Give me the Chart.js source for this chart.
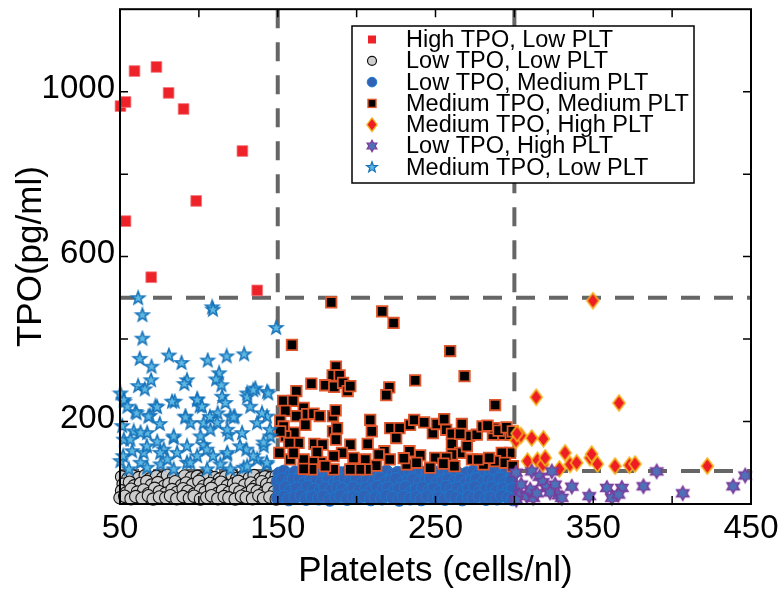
<!DOCTYPE html>
<html>
<head>
<meta charset="utf-8">
<script src="https://cdn.jsdelivr.net/npm/chart.js@4/dist/chart.umd.min.js"></script>
<style>
html,body{margin:0;padding:0;background:#fff;}
#wrap{width:781px;height:592px;}
</style>
</head>
<body>
<div id="wrap"><canvas id="c" width="781" height="592"></canvas></div>
<script>
// ---------- DATA ----------
const seriesNames = [
  "High TPO, Low PLT",
  "Low TPO, Low PLT",
  "Low TPO, Medium PLT",
  "Medium TPO, Medium PLT",
  "Medium TPO, High PLT",
  "Low TPO, High PLT",
  "Medium TPO, Low PLT"
];
const xTickLabels = [50, 150, 250, 350, 450];
const yTickLabels = [200, 600, 1000];
const xTickMarks = [100, 150, 200, 250, 300, 350, 400];
const yTickMarks = [200, 400, 600, 800, 1000];
const pltThresholds = [150, 300];
const tpoThresholds = [80, 500];

const highTpoLowPlt = [[50.3,965],[53.5,975],[59.2,1050],[73.1,1060],[80.8,997],[90.3,958],[127.6,856],[98.3,735],[53.5,686],[69.8,550],[137,518]];

const lowTpoLowPlt = [
[51,66],[55,62],[58,68],[62,64],[66,69],[69,61],[73,67],[77,63],[80,70],[84,65],[88,60],[91,68],[95,63],[99,67],[102,61],[106,69],[110,64],[113,60],[117,66],[121,70],[124,62],[128,67],[132,63],[135,69],[139,61],[142,66],[146,64],[149,68],
[52,48],[56,53],[59,44],[63,50],[67,55],[70,46],[74,52],[78,43],[81,49],[85,54],[89,45],[92,51],[96,47],[100,55],[103,43],[107,50],[111,46],[114,53],[118,44],[122,49],[125,55],[129,46],[133,51],[136,43],[140,54],[143,48],[147,52],[149,45],
[51,32],[54,27],[57,36],[61,29],[65,34],[68,25],[72,38],[75,30],[79,26],[83,35],[86,28],[90,37],[93,31],[97,24],[101,34],[104,29],[108,38],[112,26],[115,33],[119,28],[123,36],[126,30],[130,25],[134,35],[137,31],[141,27],[144,37],[148,30],
[50,15],[53,19],[57,13],[60,18],[64,14],[68,20],[71,12],[75,17],[79,15],[82,20],[86,13],[90,18],[94,14],[97,19],[101,12],[105,16],[108,20],[112,13],[116,18],[119,15],[123,12],[127,19],[130,16],[134,13],[138,20],[141,14],[145,17],[149,12]
];

const lowTpoMediumPlt = [
[151,74],[154,79],[158,70],[161,77],[165,72],[168,80],[172,69],[176,76],[179,73],[183,79],[187,70],[190,75],[194,78],[197,71],[201,77],[205,73],[208,80],[212,68],[216,75],[219,79],[223,71],[226,76],[230,73],[234,79],[237,70],[241,77],[245,74],[248,80],[252,69],[256,76],[259,72],[263,78],[267,70],[270,75],[274,79],[277,71],[281,77],[285,73],[288,80],[292,69],[295,75],[299,72],
[150,55],[153,60],[157,52],[160,58],[164,62],[167,51],[171,57],[175,61],[178,53],[182,59],[186,50],[189,56],[193,62],[196,54],[200,58],[204,51],[207,60],[211,55],[215,62],[218,52],[222,57],[225,61],[229,50],[233,56],[236,60],[240,53],[244,58],[247,62],[251,51],[255,56],[258,60],[262,54],[266,59],[269,50],[273,57],[276,61],[280,52],[284,58],[287,55],[291,62],[294,51],[298,57],
[151,36],[155,41],[158,32],[162,38],[166,30],[169,42],[173,35],[177,31],[180,39],[184,33],[188,41],[191,36],[195,30],[198,40],[202,34],[206,38],[209,31],[213,42],[217,35],[220,39],[224,32],[227,37],[231,41],[235,30],[238,36],[242,40],[246,33],[249,38],[253,31],[257,42],[260,35],[264,39],[268,32],[271,37],[275,41],[278,30],[282,36],[286,40],[289,33],[293,38],[296,31],[299,36],
[150,14],[154,18],[157,11],[161,16],[165,20],[168,12],[172,17],[176,13],[179,19],[183,10],[187,15],[190,20],[194,12],[198,17],[201,14],[205,19],[209,11],[212,16],[216,13],[219,20],[223,15],[227,10],[230,18],[234,13],[238,17],[241,11],[245,19],[249,14],[252,16],[256,12],[260,20],[263,15],[267,11],[271,18],[274,14],[278,19],[282,12],[285,16],[289,13],[292,20],[296,15],[299,11]
];

const mediumTpoMediumPlt = [
[183.9,489],[216.2,467],[223.4,439],[159,386],[259.3,371],[186.9,333],[184.8,312],[189.2,312],[171.3,292],[180.1,288],[185.8,284],[191.4,294],[194.3,274],[196,286],[161.8,274],[220.7,283],[218.8,264],[237.1,300],[268.4,310],[287.8,240],
[153.4,250],[159.7,250],[166.4,233],[154.8,226],[161.8,213],[151.6,202],[168.6,218],[172.7,219],[176.6,213],[185,213],[186.7,227],[167.5,192],[153.7,188],[185,176],[187.6,184],[160.5,173],[154.8,164],[186.9,156],[163.2,148],[157.3,148],[173.2,146],[178.4,144],[196,144],[207,146],[208.6,204],[209.6,176],[221.3,184],[227.2,184],[225.1,160],[233.9,192],[236.5,204],[242.8,198],[248.3,172],[250.8,194],[255.5,206],[256.8,180],[260.4,170],[260.4,146],[266.7,194],[271.3,165],[265.6,170],[276.2,168],[279.8,188],[286.4,168],[287.2,184],[293.1,168],[297.7,168],
[297.3,124],[292,124],[287.8,104],[280.4,96],[273.1,108],[265.6,124],[269.9,140],[260.4,120],[256.8,112],[249.8,112],[246.6,88],[240.3,118],[233.5,128],[231.8,96],[229.9,111],[217.6,128],[212.4,93],[205.5,108],[206.2,84],[202,84],[196,84],[190.7,124],[185.4,116],[185.4,84],[177.4,101],[174.9,126],[172.3,101],[171.7,84],[166.4,108],[166.4,85],[158,108],[160,124],[151.6,176],[151,124],
[283,190],[290,178],[295,186],[299,176],[277,108],[284,112],[294,100],[299,92],[262,92],[255,98],[238,100],[221,108],[214,120],[198,112],[180,92]
];

const mediumTpoHighPlt = [[349.8,493],[313.8,259],[366.3,245],[301,154],[304.1,166],[311,160],[318.4,158],[301.7,171],[308.3,104],[314.6,106],[318,96],[319.5,112],[332.1,124],[335.3,96],[339.5,100],[328.5,85],[348,112],[349,121],[352.6,97],[363.8,92],[372.9,94],[376.5,97],[422.3,92]];

const lowTpoHighPlt = [[301,76],[311,79],[323.7,79],[315.9,66],[318,53],[320.5,39],[325.8,47],[327.9,21],[336.4,42],[347.5,19],[358.6,39],[368.1,39],[361.8,15],[366,23],[381.8,43],[390.2,79],[406.7,26],[438.7,43],[446.3,69],[303.6,23],[307.8,19],[312,15],[310,35],[314.2,26],[322.6,28],[330,15],[301.2,10],[304.3,47]];

const mediumTpoLowPlt = [
[61.5,499],[64.2,458],[64.2,401],[108.4,477],[108.9,471],[149,427],[62.5,352],[70,333],[81,360],[89,342],[105.6,348],[117.6,358],[128.7,363],[69.7,300],[61.5,286],[65.7,278],[92.5,300],[90.8,291],[112.8,317],[110.9,302],[114.3,288],[50.3,268],[52.8,248],[59.8,223],[72.5,237],[84.7,248],[68.9,214],[98.9,254],[100.5,237],[114.7,260],[116.8,245],[120,212],[122.7,212],[91.5,212],[130.6,268],[135.8,280],[143.2,272],[132.6,236],[51.4,189],[75.2,194],[58.7,176],[67.2,172],[84,160],[94.6,196],[103,196],[107.3,180],[111.9,220],[118.9,168],[127.4,172],[136.9,196],[143.2,212],[145.3,164],[52.4,156],[73.6,151],[57.7,128],[65,124],[77.7,132],[86.2,124],[98.9,116],[103,143],[117.9,120],[130.1,132],[136.9,108],[141.1,140],[50.3,104],[63,100],[75.7,96],[92.5,100],[113.6,96],[128.4,88],[143.2,96],[55.6,84],[67.2,88],[84,84],[105.2,84],[120,84],
[52.4,252],[54.7,236],[60.5,220],[68,212],[73.5,235],[83,248],[91.5,210],[99,252],[102,236],[107,211],[111.6,197],[118,180],[122,210],[130.6,259],[134.5,276],[144,268],[140,220],[145,180],[141,149],[63,173],[56.6,156],[67,140],[75.5,124],[84,164],[92.5,140],[101,164],[105,132],[118,124],[126,140],[134.5,116],[52,116],[80,108],[94.6,100],[109,116],[130.6,91],[143,100]
];

// ---------- MARKERS ----------
const FONT = "'Liberation Sans', Arial, Helvetica, sans-serif";
function starPath(ctx, cx, cy, n, R, r) {
  ctx.beginPath();
  for (let i = 0; i < 2 * n; i++) {
    const rad = i % 2 === 0 ? R : r;
    const a = -Math.PI / 2 + i * Math.PI / n;
    const px = cx + rad * Math.cos(a), py = cy + rad * Math.sin(a);
    if (i === 0) ctx.moveTo(px, py); else ctx.lineTo(px, py);
  }
  ctx.closePath();
}
function drawStar5(ctx, cx, cy, s) {
  starPath(ctx, cx, cy, 5, 7 * s, 2.9 * s);
  ctx.fillStyle = '#5cb7e2'; ctx.fill();
  ctx.lineWidth = 1.5 * s; ctx.strokeStyle = '#1572b9'; ctx.lineJoin = 'miter'; ctx.stroke();
}
function drawHex(ctx, cx, cy, s) {
  starPath(ctx, cx, cy, 6, 7 * s, 4.0 * s);
  ctx.fillStyle = '#4d71b7'; ctx.fill();
  ctx.lineWidth = 1.6 * s; ctx.strokeStyle = '#7a3b9c'; ctx.stroke();
}
function drawThinDiamond(ctx, cx, cy, s) {
  const w = 6 * s, h = 8 * s;
  ctx.beginPath();
  ctx.moveTo(cx, cy - h); ctx.lineTo(cx + w, cy); ctx.lineTo(cx, cy + h); ctx.lineTo(cx - w, cy); ctx.closePath();
  ctx.fillStyle = '#ee1c24'; ctx.fill();
  ctx.lineWidth = 1.6 * s; ctx.strokeStyle = '#f6b21c'; ctx.stroke();
}
function makeImg(w, h, fn) {
  const c = document.createElement('canvas');
  c.width = w; c.height = h;
  fn(c.getContext('2d'), w / 2, h / 2);
  return c;
}
const star5Img = makeImg(18, 18, (c, x, y) => drawStar5(c, x, y, 1));
const hexImg = makeImg(18, 18, (c, x, y) => drawHex(c, x, y, 1));
const diamondImg = makeImg(15, 20, (c, x, y) => drawThinDiamond(c, x, y, 1));

const toPts = arr => arr.map(([x, y]) => ({x, y}));

// ---------- PLUGINS ----------
const guidesPlugin = {
  id: 'guides',
  beforeDatasetsDraw(chart) {
    const {ctx, chartArea: a, scales: {x, y}} = chart;
    ctx.save();
    ctx.strokeStyle = '#666666';
    ctx.lineWidth = 4;
    ctx.setLineDash([19, 14]);
    pltThresholds.forEach(v => {
      const px = x.getPixelForValue(v);
      ctx.beginPath(); ctx.moveTo(px, a.top); ctx.lineTo(px, a.bottom); ctx.stroke();
    });
    tpoThresholds.forEach(v => {
      const py = y.getPixelForValue(v);
      ctx.beginPath(); ctx.moveTo(a.left, py); ctx.lineTo(a.right, py); ctx.stroke();
    });
    ctx.restore();
  },
  afterDatasetsDraw(chart) {
    const {ctx, chartArea: a, scales: {x, y}} = chart;
    ctx.save();
    ctx.strokeStyle = '#000';
    ctx.lineWidth = 1.5;
    const L = 8;
    xTickMarks.forEach(v => {
      const px = x.getPixelForValue(v);
      ctx.beginPath();
      ctx.moveTo(px, a.bottom); ctx.lineTo(px, a.bottom - L);
      ctx.moveTo(px, a.top); ctx.lineTo(px, a.top + L);
      ctx.stroke();
    });
    yTickMarks.forEach(v => {
      const py = y.getPixelForValue(v);
      ctx.beginPath();
      ctx.moveTo(a.left, py); ctx.lineTo(a.left + L, py);
      ctx.moveTo(a.right, py); ctx.lineTo(a.right - L, py);
      ctx.stroke();
    });
    ctx.lineWidth = 2;
    ctx.strokeRect(a.left, a.top, a.right - a.left, a.bottom - a.top);
    ctx.restore();
  },
  afterDraw(chart) {
    const ctx = chart.ctx;
    ctx.save();
    const bx = 352, by = 26, bw = 342, bh = 157;
    ctx.fillStyle = '#fff';
    ctx.fillRect(bx, by, bw, bh);
    ctx.strokeStyle = '#000'; ctx.lineWidth = 1.5;
    ctx.strokeRect(bx, by, bw, bh);
    const mx = 372, tx = 406, y0 = 39.5, dy = 21.3;
    ctx.font = '23.5px ' + FONT;
    ctx.textBaseline = 'middle';
    ctx.textAlign = 'left';
    seriesNames.forEach((name, i) => {
      const cy = y0 + i * dy;
      if (i === 0) { ctx.fillStyle = '#ee2229'; ctx.fillRect(mx - 4, cy - 4, 8, 8); }
      else if (i === 1) { ctx.beginPath(); ctx.arc(mx, cy, 4.5, 0, Math.PI * 2); ctx.fillStyle = '#cfcfcf'; ctx.fill(); ctx.lineWidth = 1.2; ctx.strokeStyle = '#111'; ctx.stroke(); }
      else if (i === 2) { ctx.beginPath(); ctx.arc(mx, cy, 4.8, 0, Math.PI * 2); ctx.fillStyle = '#3062b5'; ctx.fill(); ctx.lineWidth = 1; ctx.strokeStyle = '#1d7ad0'; ctx.stroke(); }
      else if (i === 3) { ctx.fillStyle = '#000'; ctx.fillRect(mx - 4, cy - 4, 8, 8); ctx.lineWidth = 1.4; ctx.strokeStyle = '#e0552a'; ctx.strokeRect(mx - 4, cy - 4, 8, 8); }
      else if (i === 4) { drawThinDiamond(ctx, mx, cy, 0.85); }
      else if (i === 5) { drawHex(ctx, mx, cy, 0.8); }
      else if (i === 6) { drawStar5(ctx, mx, cy, 0.8); }
      ctx.fillStyle = '#000';
      ctx.fillText(name, tx, cy + 1);
    });
    ctx.restore();
  }
};

// ---------- CHART ----------
const datasets = [
  {label: seriesNames[0], data: toPts(highTpoLowPlt), pointStyle: 'rect', pointRadius: 7.6, backgroundColor: '#ee2229', borderColor: '#f27a7e', borderWidth: 0.8},
  {label: seriesNames[1], data: toPts(lowTpoLowPlt), pointStyle: 'circle', pointRadius: 6.2, backgroundColor: '#cccccc', borderColor: '#111111', borderWidth: 1.1},
  {label: seriesNames[2], data: toPts(lowTpoMediumPlt), pointStyle: 'circle', pointRadius: 6.4, backgroundColor: '#3062b5', borderColor: '#1d7ad0', borderWidth: 1},
  {label: seriesNames[3], data: toPts(mediumTpoMediumPlt), pointStyle: 'rect', pointRadius: 7.4, backgroundColor: '#000000', borderColor: '#e0552a', borderWidth: 1.8},
  {label: seriesNames[4], data: toPts(mediumTpoHighPlt), pointStyle: diamondImg, pointRadius: 7},
  {label: seriesNames[5], data: toPts(lowTpoHighPlt), pointStyle: hexImg, pointRadius: 7},
  {label: seriesNames[6], data: toPts(mediumTpoLowPlt), pointStyle: star5Img, pointRadius: 7}
].map((d, i) => Object.assign(d, {order: 6 - i, clip: false, pointHoverRadius: d.pointRadius}));

new Chart(document.getElementById('c'), {
  type: 'scatter',
  data: {datasets},
  options: {
    responsive: false,
    animation: false,
    devicePixelRatio: 1,
    layout: {padding: {top: 6, right: 30, left: 0, bottom: 0}},
    plugins: {legend: {display: false}, tooltip: {enabled: false}},
    scales: {
      x: {
        type: 'linear', min: 50, max: 450,
        grid: {display: false, drawTicks: false},
        border: {display: false},
        afterBuildTicks: s => { s.ticks = xTickLabels.map(v => ({value: v})); },
        afterFit: s => { s.height = 88; s.paddingLeft = 0; s.paddingRight = 0; },
        ticks: {color: '#000', font: {size: 33, family: FONT}, padding: 5, maxRotation: 0, autoSkip: false, callback: v => String(v)},
        title: {display: true, text: 'Platelets (cells/nl)', color: '#000', font: {size: 35, family: FONT}, padding: {top: 0, bottom: 0}}
      },
      y: {
        type: 'linear', min: 0, max: 1200,
        grid: {display: false, drawTicks: false},
        border: {display: false},
        afterBuildTicks: s => { s.ticks = yTickLabels.map(v => ({value: v})); },
        afterFit: s => { s.width = 120; s.paddingTop = 0; s.paddingBottom = 0; },
        ticks: {color: '#000', font: {size: 33, family: FONT}, padding: 5, labelOffset: -3, autoSkip: false, callback: v => String(v)},
        title: {display: true, text: 'TPO(pg/ml)', color: '#000', font: {size: 35, family: FONT}, padding: {top: 10, bottom: 0}}
      }
    }
  },
  plugins: [guidesPlugin]
});
</script>
</body>
</html>
